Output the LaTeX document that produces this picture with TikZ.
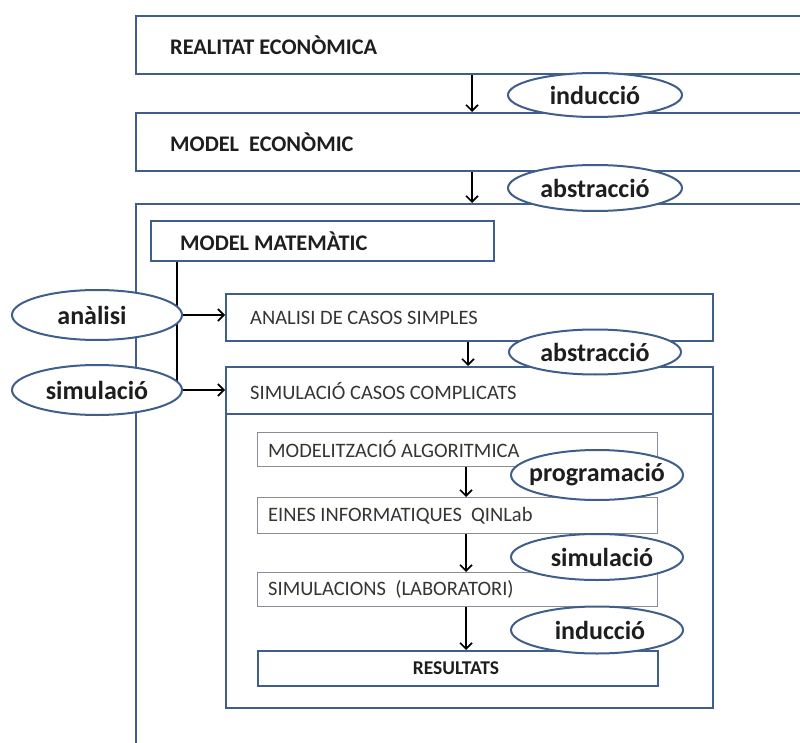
\documentclass[tikz,border=0pt]{standalone}
\usepackage{fontspec}
\setmainfont{Carlito}
\usetikzlibrary{arrows.meta,shapes.geometric}
\definecolor{boxblue}{HTML}{3F5E8C}
\definecolor{thingray}{HTML}{878C96}
\definecolor{txt}{HTML}{1E1E1E}
\tikzset{
  bigbox/.style={draw=boxblue, line width=2.2pt, fill=white, rectangle, anchor=north west, inner sep=0pt},
  thinbox/.style={draw=thingray, line width=1pt, fill=white, rectangle, anchor=north west, inner sep=0pt},
  oval/.style={draw=boxblue, line width=2pt, fill=white, ellipse, inner sep=0pt},
  ovtxt/.style={inner sep=0pt, font=\fontsize{26}{29}\selectfont\bfseries, text=txt},
  ttl/.style={anchor=west, inner sep=0pt, font=\fontsize{22.3}{25}\selectfont\bfseries, text=txt},
  reg/.style={anchor=west, inner sep=0pt, font=\fontsize{20.5}{24}\selectfont, text=txt!90},
  arr/.style={line width=1.8pt, -{Straight Barb[length=6pt,width=12pt,line width=1.6pt]}},
}
\begin{document}
\begin{tikzpicture}[x=1pt,y=-1pt]
\clip (0,0) rectangle (800,743);
\fill[white] (0,0) rectangle (800,743);
% outer frame
\node[bigbox, minimum width=700pt, minimum height=600pt] (outer) at (135,203) {};
% top boxes
\node[bigbox, minimum width=700pt, minimum height=58pt] (real) at (135,15) {};
\node[ttl] (realt) at ([xshift=35pt]real.west) {REALITAT ECONÒMICA};
\node[bigbox, minimum width=700pt, minimum height=58pt] (mec) at (135,112) {};
\node[ttl] (mect) at ([xshift=35pt]mec.west) {MODEL\ \ ECONÒMIC};
\node[bigbox, minimum width=343pt, minimum height=40pt] (mmat) at (150,220) {};
\node[ttl] (mmatt) at ([xshift=30pt]mmat.west) {MODEL MATEMÀTIC};
% analisi box
\node[bigbox, minimum width=487pt, minimum height=47pt] (anal) at (225,293) {};
\node[reg] (analt) at ([xshift=25pt]anal.west) {ANALISI DE CASOS SIMPLES};
% simulacio container
\node[bigbox, minimum width=487pt, minimum height=341pt] (simc) at (225,366) {};
\node[bigbox, minimum width=487pt, minimum height=47pt] (simh) at (225,366) {};
\node[reg] (simht) at ([xshift=25pt]simh.west) {SIMULACIÓ CASOS COMPLICATS};
% inner boxes
\node[thinbox, minimum width=400pt, minimum height=34pt] (malg) at (257,432) {};
\node[reg] (malgt) at ([xshift=11pt]malg.west) {MODELITZACIÓ ALGORITMICA};
\node[thinbox, minimum width=400pt, minimum height=36pt] (eines) at (257,497) {};
\node[reg] (einest) at ([xshift=11pt]eines.west) {EINES INFORMATIQUES\ \ QINLab};
\node[thinbox, minimum width=400pt, minimum height=34pt] (slab) at (257,572) {};
\node[reg] (slabt) at ([xshift=11pt]slab.west) {SIMULACIONS\ \ (LABORATORI)};
\node[bigbox, line width=2pt, minimum width=400pt, minimum height=35pt] (res) at (257,650) {};
\node[ttl, anchor=center, font=\fontsize{19.5}{22}\selectfont\bfseries] (rest) at ([xshift=-2pt]res.center) {RESULTATS};
% arrows
\coordinate (xa) at (472,0);
\coordinate (xb) at (468,0);
\coordinate (xc) at (466,0);
\coordinate (xl) at (177,0);
\coordinate (yb) at (0,390);
\draw[arr] (real.south -| xa) -- (mec.north -| xa);
\draw[arr] (mec.south -| xa) -- (outer.north -| xa);
\draw[arr] (anal.south -| xb) -- (simh.north -| xb);
\draw[arr] (malg.south -| xc) -- (eines.north -| xc);
\draw[arr] (eines.south -| xc) -- (slab.north -| xc);
\draw[arr] (slab.south -| xc) -- (res.north -| xc);
\coordinate (lend) at (xl |- yb);
\draw[line width=1.8pt] (mmat.south -| xl) -- (lend);
% ovals
\node[oval, minimum width=174pt, minimum height=44pt] (ind1) at (595,95) {};
\node[ovtxt] (ind1t) at (ind1.center) {inducció};
\node[oval, minimum width=174pt, minimum height=46pt] (abs1) at (595,188) {};
\node[ovtxt] (abs1t) at (abs1.center) {abstracció};
\node[oval, minimum width=170pt, minimum height=50pt] (anl) at (97,315) {};
\node[ovtxt] (anlt) at ([xshift=-5pt]anl.center) {anàlisi};
\node[oval, minimum width=170pt, minimum height=50pt] (siml) at (97,390) {};
\node[ovtxt] (simlt) at (siml.center) {simulació};
\node[oval, minimum width=172pt, minimum height=45pt] (abs2) at (595,352) {};
\node[ovtxt] (abs2t) at (abs2.center) {abstracció};
\node[oval, minimum width=172pt, minimum height=50pt] (prog) at (597,475) {};
\node[ovtxt] (progt) at (prog.center) {programació};
\node[oval, minimum width=172pt, minimum height=46pt] (sim2) at (597,557) {};
\node[ovtxt] (sim2t) at ([xshift=5pt]sim2.center) {simulació};
\node[oval, minimum width=172pt, minimum height=47pt] (ind2) at (597,630) {};
\node[ovtxt] (ind2t) at ([xshift=3pt]ind2.center) {inducció};
\draw[arr] (anl.east) -- (anal.west |- anl.east);
\draw[arr] (siml.east) -- (simh.west |- siml.east);
\end{tikzpicture}
\end{document}
